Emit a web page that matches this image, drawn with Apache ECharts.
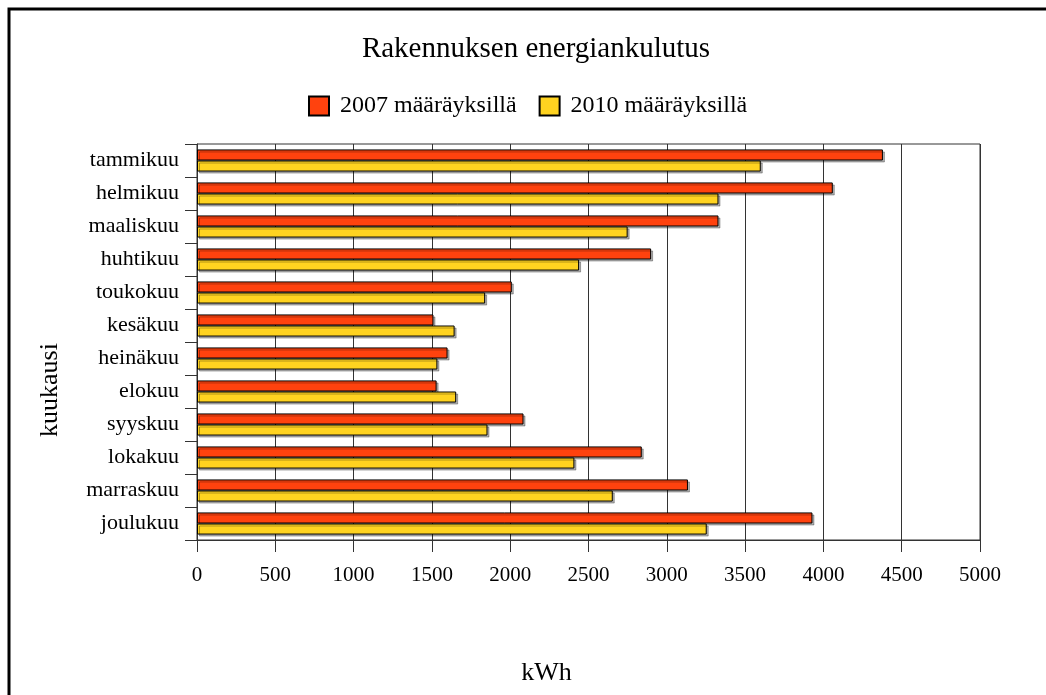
<!DOCTYPE html>
<html>
<head>
<meta charset="utf-8">
<script src="https://cdn.jsdelivr.net/npm/echarts@6/dist/echarts.min.js"></script>
<style>
  html, body { margin: 0; padding: 0; background: #fff; }
  #chart { width: 1046px; height: 695px; }
</style>
</head>
<body>
<div id="chart"></div>
<script>
// kuukaudet ja kulutus (kWh)
var months = ['tammikuu', 'helmikuu', 'maaliskuu', 'huhtikuu', 'toukokuu', 'kesäkuu',
    'heinäkuu', 'elokuu', 'syyskuu', 'lokakuu', 'marraskuu', 'joulukuu'];
var kulutus2007 = [4380, 4060, 3330, 2900, 2010, 1510, 1600, 1530, 2085, 2840, 3135, 3930];
var kulutus2010 = [3600, 3330, 2750, 2440, 1840, 1645, 1535, 1655, 1855, 2410, 2655, 3255];
var xTicks = [0, 500, 1000, 1500, 2000, 2500, 3000, 3500, 4000, 4500, 5000];

var font = '"Liberation Serif", "Times New Roman", serif';
var myChart = echarts.init(document.getElementById('chart'));

function barStyle(color) {
    return {
        color: color,
        borderColor: '#000',
        borderWidth: 1,
        shadowColor: 'rgba(0,0,0,0.3)',
        shadowBlur: 0,
        shadowOffsetX: 2,
        shadowOffsetY: 2
    };
}

var option = {
    backgroundColor: '#fff',
    animation: false,
    textStyle: { fontFamily: font, color: '#000' },
    title: {
        text: 'Rakennuksen energiankulutus',
        left: 531,
        textAlign: 'center',
        top: 30,
        textStyle: { fontFamily: font, fontSize: 29, fontWeight: 'normal', color: '#000' }
    },
    legend: {
        top: 89,
        left: 303,
        itemWidth: 20,
        itemHeight: 19,
        itemGap: 22,
        icon: 'rect',
        textStyle: { fontFamily: font, fontSize: 24, color: '#000', padding: [0, 0, 0, 6] },
        data: ['2007 määräyksillä', '2010 määräyksillä']
    },
    grid: {
        left: 197,
        top: 144,
        right: 66,
        bottom: 155,
        show: true,
        borderColor: '#333',
        borderWidth: 1
    },
    xAxis: {
        type: 'value',
        min: xTicks[0],
        max: xTicks[xTicks.length - 1],
        interval: xTicks[1] - xTicks[0],
        name: 'kWh',
        nameLocation: 'middle',
        nameGap: 120,
        nameTextStyle: { fontFamily: font, fontSize: 26, color: '#000', padding: [0, 84, 0, 0] },
        axisLine: { show: true, lineStyle: { color: '#333', width: 1 } },
        axisTick: { show: true, length: 12, lineStyle: { color: '#333' } },
        axisLabel: {
            margin: 25, fontFamily: font, fontSize: 21, color: '#000',
            formatter: function (v) { return String(v); }
        },
        splitLine: { show: true, lineStyle: { color: '#333', width: 1 } }
    },
    yAxis: {
        type: 'category',
        inverse: true,
        data: months,
        name: 'kuukausi',
        nameLocation: 'middle',
        nameGap: 134,
        nameRotate: 90,
        nameTextStyle: { fontFamily: font, fontSize: 26, color: '#000', padding: [0, 96, 0, 0] },
        axisLine: { show: true, lineStyle: { color: '#333', width: 1 } },
        axisTick: { show: true, length: 12, lineStyle: { color: '#333' } },
        axisLabel: { margin: 18, fontFamily: font, fontSize: 22, color: '#000' },
        splitLine: { show: false }
    },
    series: [
        {
            name: '2007 määräyksillä',
            type: 'bar',
            data: kulutus2007,
            barGap: '0%',
            barCategoryGap: '33%',
            itemStyle: barStyle('#ff420e')
        },
        {
            name: '2010 määräyksillä',
            type: 'bar',
            data: kulutus2010,
            barGap: '0%',
            barCategoryGap: '33%',
            itemStyle: barStyle('#ffd320')
        }
    ],
    graphic: [
        {
            type: 'rect',
            silent: true,
            shape: { x: 9, y: 9, width: 1100, height: 800 },
            style: { fill: 'none', stroke: '#000', lineWidth: 3 }
        }
    ]
};

myChart.setOption(option);
</script>
</body>
</html>
